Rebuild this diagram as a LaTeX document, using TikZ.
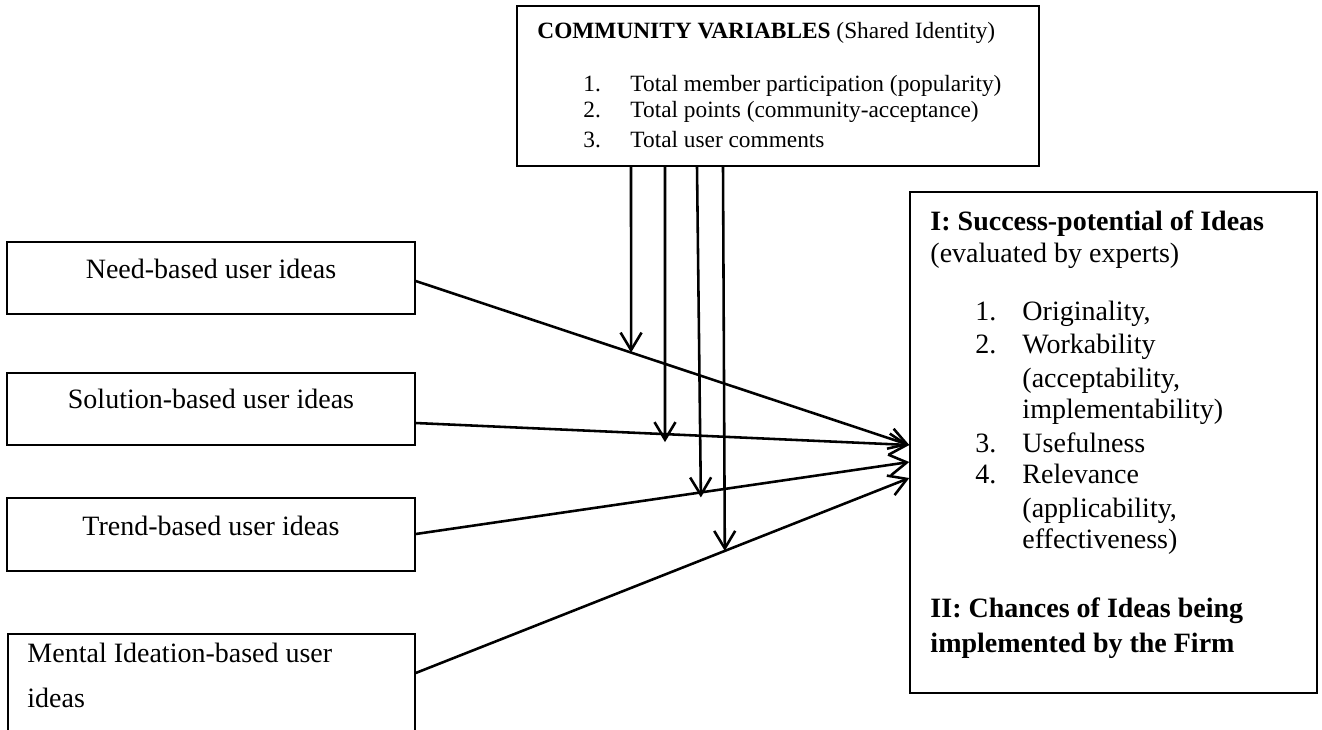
\documentclass[tikz,border=0pt]{standalone}
\usepackage{fontspec}
\setmainfont{Liberation Serif}
\usetikzlibrary{arrows.meta}
\usetikzlibrary{fit}
\usetikzlibrary{calc}

\tikzset{
	ideabox/.style={draw, line width=0.6pt, inner sep=0pt},
	txt/.style={inner sep=0pt, anchor=base west, font=\fontsize{12}{14}\selectfont},
	smalltxt/.style={inner sep=0pt, anchor=base west, font=\fontsize{10}{12}\selectfont},
	conn/.style={line width=1.1pt, -{Straight Barb[length=7.5pt,width=9pt]}}
}

\begin{document}
\begin{tikzpicture}[x=0.4286pt, y=-0.4286pt]
\useasboundingbox (0,0) rectangle (1322,729);
\clip (0,0) rectangle (1322,729);

% community variables
\node[ideabox, fit={(517,6) (1039,166)}] (cv) {};
\node[smalltxt] (cv-title) at (537,38) {\textbf{COMMUNITY VARIABLES} (Shared Identity)};
\foreach \n/\y/\t in {1/91/Total member participation (popularity), 2/117/Total points (community-acceptance), 3/147/Total user comments}
{
	\node[smalltxt] (cv-num-\n) at (583,\y) {\n.};
	\node[smalltxt] (cv-item-\n) at (630,\y) {\t};
}

% user ideas
\node[ideabox, fit={(7,242) (415,314)}] (need) {};
\node[txt, anchor=base] (need-text) at (211,278) {Need-based user ideas};
\node[ideabox, fit={(7,373) (415,445)}] (sol) {};
\node[txt, anchor=base] (sol-text) at (211,408) {Solution-based user ideas};
\node[ideabox, fit={(7,498) (415,571)}] (trend) {};
\node[txt, anchor=base] (trend-text) at (211,535) {Trend-based user ideas};
\node[ideabox, fit={(8,634) (415,760)}] (mental) {};
\node[txt] (mental-1) at (27,662) {Mental Ideation-based user};
\node[txt] (mental-2) at (27,707) {ideas};

% success potential
\node[ideabox, fit={(910,192) (1317,693)}] (succ) {};
\node[txt] (succ-title) at (930,230) {\textbf{I: Success-potential of Ideas}};
\node[txt] (succ-sub) at (930,262) {(evaluated by experts)};
\foreach \n/\y in {1/320, 2/353, 3/452, 4/483}
	\node[txt] (crit-num-\n) at (975,\y) {\n.};
\foreach \y/\t in {320/{Originality,}, 353/Workability, 387/{(acceptability,}, 418/{implementability)}, 452/Usefulness, 483/Relevance, 517/{(applicability,}, 548/{effectiveness)}}
	\node[txt] (crit-\y) at (1022,\y) {\t};
\node[txt] (firm-1) at (930,617) {\textbf{II: Chances of Ideas being}};
\node[txt] (firm-2) at (930,652) {\textbf{implemented by the Firm}};

% connectors
\coordinate (need-out) at (need.east |- 0,281);
\coordinate (sol-out) at (sol.east |- 0,423);
\coordinate (trend-out) at (trend.east |- 0,534);
\coordinate (mental-out) at (mental.east |- 0,673);
\coordinate (in-a) at (succ.west |- 0,445);
\coordinate (in-b) at (succ.west |- 0,462);
\coordinate (in-c) at (succ.west |- 0,478);

\draw[conn] (need-out) -- (in-a);
\draw[conn] (sol-out) -- (in-a);
\draw[conn] (trend-out) -- (in-b);
\draw[conn] (mental-out) -- (in-c);

% moderating arrows, top x / tip x / drop below the line
\foreach \x/\t/\d/\a/\b in {631/631/0/need-out/in-a, 665/665/8/sol-out/in-a, 697/701/5/trend-out/in-b, 723/725/0/mental-out/in-c}
	\draw[conn] (cv.south -| \x,0) -- ($(\a)!{(\t-415)/495}!(\b) + (0,\d)$);
\end{tikzpicture}
\end{document}
